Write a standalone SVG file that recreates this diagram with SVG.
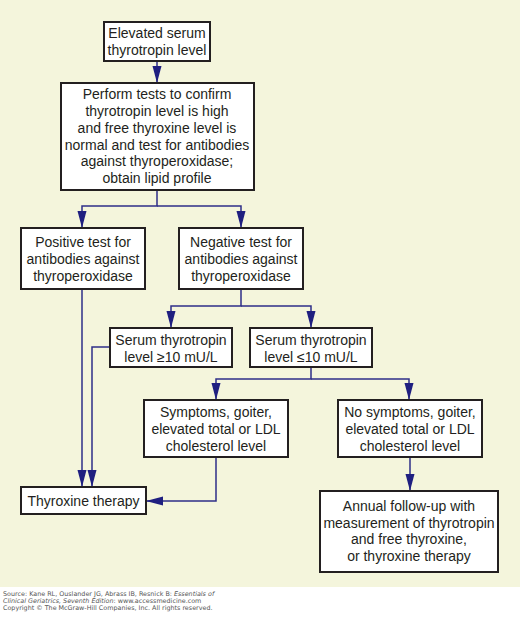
<svg xmlns="http://www.w3.org/2000/svg" width="520" height="624" viewBox="0 0 520 624">
<style>
.box{fill:#fff;stroke:#231f20;stroke-width:2}
.t{font-family:"Liberation Sans",Arial,sans-serif;font-size:14px;fill:#231f20;text-anchor:middle}
.c{fill:none;stroke:#2e2e88;stroke-width:1.5}
.src{font-family:"DejaVu Sans",Verdana,sans-serif;font-size:6.4px;fill:#555}
</style>
<defs>
<marker id="ah" markerUnits="userSpaceOnUse" markerWidth="18" markerHeight="10" refX="17" refY="5" orient="auto">
<path d="M0,0.5 L17,5 L0,9.5 z" fill="#1f1f80"/>
</marker>
</defs>
<rect x="0" y="0" width="520" height="587" fill="#f4f5dc"/>
<rect x="0" y="587" width="520" height="37" fill="#fff"/>
<g id="connectors">
<path class="c" d="M157,61 V83" marker-end="url(#ah)"/>
<path class="c" d="M157,190 V206 H82 V228" marker-end="url(#ah)"/>
<path class="c" d="M157,206 H241 V228" marker-end="url(#ah)"/>
<path class="c" d="M241,289 V306 H171 V328" marker-end="url(#ah)"/>
<path class="c" d="M241,306 H311 V328" marker-end="url(#ah)"/>
<path class="c" d="M311,367 V379 H216 V400" marker-end="url(#ah)"/>
<path class="c" d="M311,379 H409 V400" marker-end="url(#ah)"/>
<path class="c" d="M82,289 V487" marker-end="url(#ah)"/>
<path class="c" d="M110,347 H92 V487" marker-end="url(#ah)"/>
<path class="c" d="M216,457 V501 H146" marker-end="url(#ah)"/>
<path class="c" d="M410,457 V491" marker-end="url(#ah)"/>
</g>
<g id="n1">
<rect class="box" x="104" y="22" width="106" height="39"/>
<text class="t" x="157" y="38">Elevated serum</text>
<text class="t" x="157" y="55">thyrotropin level</text>
</g>
<g id="n2">
<rect class="box" x="61" y="83" width="193" height="107"/>
<text class="t" x="157" y="99">Perform tests to confirm</text>
<text class="t" x="157" y="116">thyrotropin level is high</text>
<text class="t" x="157" y="133">and free thyroxine level is</text>
<text class="t" x="157" y="150">normal and test for antibodies</text>
<text class="t" x="157" y="166">against thyroperoxidase;</text>
<text class="t" x="157" y="183">obtain lipid profile</text>
</g>
<g id="n3">
<rect class="box" x="21" y="228" width="124" height="61"/>
<text class="t" x="83" y="246.5">Positive test for</text>
<text class="t" x="83" y="263.5">antibodies against</text>
<text class="t" x="83" y="280.5">thyroperoxidase</text>
</g>
<g id="n4">
<rect class="box" x="179" y="228" width="124" height="61"/>
<text class="t" x="241" y="246.5">Negative test for</text>
<text class="t" x="241" y="263.5">antibodies against</text>
<text class="t" x="241" y="280.5">thyroperoxidase</text>
</g>
<g id="n5">
<rect class="box" x="110" y="328" width="122" height="39"/>
<text class="t" x="171" y="345">Serum thyrotropin</text>
<text class="t" x="171" y="361.5">level ≥10 mU/L</text>
</g>
<g id="n6">
<rect class="box" x="250" y="328" width="122" height="39"/>
<text class="t" x="311" y="345">Serum thyrotropin</text>
<text class="t" x="311" y="361.5">level ≤10 mU/L</text>
</g>
<g id="n7">
<rect class="box" x="144" y="400" width="144" height="57"/>
<text class="t" x="216" y="416.5">Symptoms, goiter,</text>
<text class="t" x="216" y="433.5">elevated total or LDL</text>
<text class="t" x="216" y="450.5">cholesterol level</text>
</g>
<g id="n8">
<rect class="box" x="338" y="400" width="144" height="57"/>
<text class="t" x="410" y="416.5">No symptoms, goiter,</text>
<text class="t" x="410" y="433.5">elevated total or LDL</text>
<text class="t" x="410" y="450.5">cholesterol level</text>
</g>
<g id="n9">
<rect class="box" x="21" y="487" width="125" height="27"/>
<text class="t" x="83.5" y="505.5">Thyroxine therapy</text>
</g>
<g id="n10">
<rect class="box" x="320" y="491" width="178" height="81"/>
<text class="t" x="409" y="511">Annual follow-up with</text>
<text class="t" x="409" y="527.5">measurement of thyrotropin</text>
<text class="t" x="409" y="544">and free thyroxine,</text>
<text class="t" x="409" y="560.5">or thyroxine therapy</text>
</g>
<g id="source">
<text class="src" x="3" y="595.5">Source: Kane RL, Ouslander JG, Abrass IB, Resnick B: <tspan font-style="italic">Essentials of</tspan></text>
<text class="src" x="3" y="602.5"><tspan font-style="italic">Clinical Geriatrics, Seventh Edition</tspan>: www.accessmedicine.com</text>
<text class="src" x="3" y="610">Copyright © The McGraw-Hill Companies, Inc. All rights reserved.</text>
</g>
</svg>
